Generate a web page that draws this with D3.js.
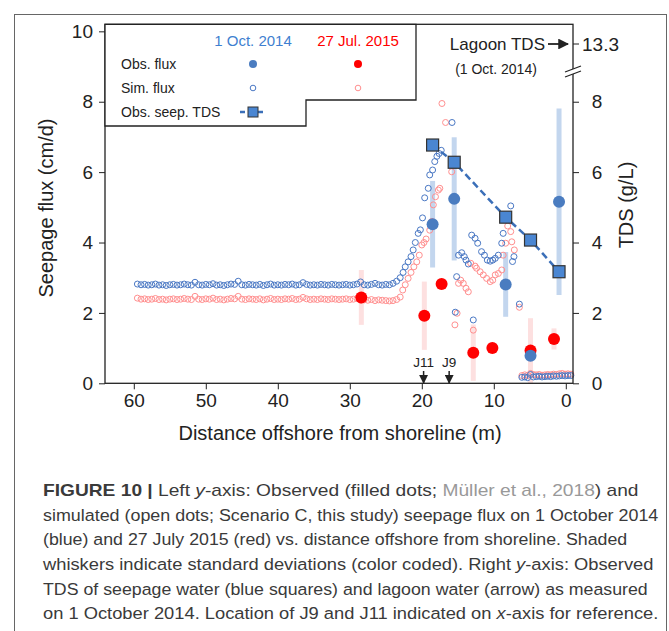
<!DOCTYPE html>
<html>
<head>
<meta charset="utf-8">
<script src="https://cdn.jsdelivr.net/npm/d3@7"></script>
<style>
  body { margin: 0; background: #fff; }
  svg { display: block; font-family: "Liberation Sans", Arial, sans-serif; }
</style>
</head>
<body>
<div id="content"></div>
<script>
'use strict';

// simulated flux, 1 Oct 2014 (blue open dots)
var simBlueX = [59.5, 59, 58.5, 58, 57.5, 57, 56.5, 56, 55.5, 55, 54.5, 54, 53.5, 53, 52.5, 52, 51.5, 51, 50.5, 50,
    49.5, 49, 48.5, 48, 47.5, 47, 46.5, 46, 45.5, 45, 44.5, 44, 43.5, 43, 42.5, 42, 41.5, 41, 40.5, 40,
    39.5, 39, 38.5, 38, 37.5, 37, 36.5, 36, 35.5, 35, 34.5, 34, 33.5, 33, 32.5, 32, 31.5, 31, 30.5, 30,
    29.5, 29, 28.5, 28, 27.5, 27, 26.5, 26, 25.5, 25, 24.5,
    24.0, 23.5, 23.0, 22.6, 22.3, 21.9, 21.5, 21.2, 20.9, 20.5, 20.2, 19.9, 19.6, 19.1, 18.9, 18.5, 18.2, 17.9, 17.6, 17.3,
    15.8, 15.35, 15.16, 14.9, 14.46, 14.1, 13.86, 13.54, 13.07, 12.85, 12.6, 12.24, 11.7, 11.3, 10.9, 10.5, 10.15, 9.8, 9.37,
    8.9, 8.7, 7.65, 7.4, 7.2, 6.45,
    6.1, 5.7, 5.3, 4.9, 4.5, 4.1, 3.7, 3.3, 2.9, 2.5, 2.1, 1.7, 1.3, 0.9, 0.5, 0.1, -0.3, -0.7]
var simBlueY = [2.82, 2.80, 2.81, 2.79, 2.80, 2.82, 2.79, 2.80, 2.78, 2.80, 2.81, 2.79, 2.80, 2.82, 2.80, 2.79, 2.87, 2.80, 2.79, 2.81,
    2.80, 2.83, 2.79, 2.80, 2.78, 2.80, 2.82, 2.81, 2.90, 2.80, 2.79, 2.81, 2.80, 2.79, 2.81, 2.78, 2.80, 2.82, 2.79, 2.80,
    2.79, 2.81, 2.80, 2.82, 2.79, 2.80, 2.86, 2.81, 2.79, 2.80, 2.79, 2.81, 2.80, 2.79, 2.81, 2.80, 2.79, 2.80, 2.81, 2.79,
    2.80, 2.82, 2.88, 2.80, 2.79, 2.81, 2.84, 2.80, 2.79, 2.81, 2.80,
    2.84, 2.90, 3.00, 3.15, 3.31, 3.45, 3.60, 3.79, 4.00, 4.26, 4.36, 4.70, 5.27, 5.54, 5.92, 6.06, 6.30, 6.45, 6.53, 6.62,
    7.41, 2.02, 3.03, 3.64, 3.71, 3.60, 3.50, 3.39, 4.21, 1.80, 4.12, 3.98, 3.74, 3.64, 3.50, 3.47, 3.50, 3.55, 3.64,
    3.98, 4.26, 5.04, 3.46, 3.60, 2.25,
    0.17, 0.18, 0.16, 0.25, 0.18, 0.19, 0.20, 0.18, 0.19, 0.20, 0.19, 0.21, 0.20, 0.21, 0.22, 0.21, 0.22, 0.22]

// simulated flux, 27 Jul 2015 (red open dots)
var simRedX = [59.5, 59, 58.5, 58, 57.5, 57, 56.5, 56, 55.5, 55, 54.5, 54, 53.5, 53, 52.5, 52, 51.5, 51, 50.5, 50,
    49.5, 49, 48.5, 48, 47.5, 47, 46.5, 46, 45.5, 45, 44.5, 44, 43.5, 43, 42.5, 42, 41.5, 41, 40.5, 40,
    39.5, 39, 38.5, 38, 37.5, 37, 36.5, 36, 35.5, 35, 34.5, 34, 33.5, 33, 32.5, 32, 31.5, 31, 30.5, 30,
    29.5, 29, 28.5, 28, 27.5, 27, 26.5, 26, 25.5, 25, 24.5,
    24.0, 23.5, 23.0, 22.65, 22.3, 21.9, 21.5, 21.1, 20.7, 20.35, 20.0, 19.7, 19.4, 18.9, 18.6, 18.4, 18.1, 17.7, 17.5,
    17.2, 16.7, 15.85, 15.4, 15.1, 14.9, 14.6, 14.24, 13.86, 13.54, 13.2, 12.85, 12.6, 12.4, 11.9, 11.46, 11.0, 10.5, 10.15,
    9.8, 9.37, 8.9, 8.7, 8.35, 8.07, 7.65, 7.5, 7.15, 6.45,
    6.1, 5.7, 5.3, 4.9, 4.5, 4.1, 3.7, 3.3, 2.9, 2.5, 2.1, 1.7, 1.3, 0.9, 0.5, 0.1, -0.3, -0.7]
var simRedY = [2.42, 2.39, 2.40, 2.38, 2.39, 2.41, 2.38, 2.39, 2.37, 2.39, 2.40, 2.38, 2.39, 2.41, 2.39, 2.38, 2.47, 2.39, 2.38, 2.40,
    2.39, 2.42, 2.38, 2.39, 2.37, 2.39, 2.41, 2.40, 2.47, 2.39, 2.38, 2.40, 2.39, 2.38, 2.40, 2.37, 2.39, 2.41, 2.38, 2.39,
    2.38, 2.40, 2.39, 2.41, 2.38, 2.39, 2.44, 2.40, 2.38, 2.39, 2.38, 2.40, 2.39, 2.38, 2.40, 2.39, 2.38, 2.39, 2.40, 2.38,
    2.39, 2.41, 2.36, 2.37, 2.36, 2.38, 2.35, 2.37, 2.36, 2.35, 2.34,
    2.35, 2.38, 2.45, 2.65, 2.80, 2.98, 3.15, 3.31, 3.45, 3.64, 3.93, 4.00, 4.10, 4.35, 4.60, 5.07, 5.30, 5.49, 5.54,
    7.95, 7.41, 6.01, 1.66, 1.99, 2.84, 2.93, 2.84, 2.70, 2.60, 3.41, 1.51, 3.33, 3.27, 3.17, 3.08, 2.98, 2.89, 2.93,
    3.08, 3.12, 3.22, 3.64, 3.98, 4.47, 4.31, 4.02, 3.79, 2.16,
    0.22, 0.24, 0.22, 0.28, 0.25, 0.24, 0.25, 0.23, 0.24, 0.25, 0.24, 0.26, 0.25, 0.27, 0.28, 0.26, 0.27, 0.26]

// observed flux (filled dots) with standard deviation
var obsBlueX = [18.5, 15.5, 8.35, 4.9, 0.94]
var obsBlueY = [4.52, 5.24, 2.81, 0.78, 5.16]
var obsBlueSd = [1.23, 1.75, 0.92, 0.55, 2.65]
var obsRedX = [28.4, 19.65, 17.25, 12.85, 10.2, 4.9, 1.64]
var obsRedY = [2.44, 1.92, 2.82, 0.87, 1.00, 0.93, 1.26]
var obsRedSd = [0.78, 0.97, 0, 0.8, 0, 0.92, 0.3]

// observed TDS of seepage water, g/L (right axis)
var tdsX = [18.5, 15.5, 8.35, 4.9, 0.94]
var tdsY = [6.77, 6.28, 4.72, 4.07, 3.17]

var xTicks = [60, 50, 40, 30, 20, 10, 0]
var yTicks = [0, 2, 4, 6, 8, 10]
var tdsTicks = [0, 2, 4, 6, 8]
var lagoonTds = 13.3
var wells = [{ name: 'J11', x: 19.75 }, { name: 'J9', x: 16.2 }]

var caption = [
    [['b', 'FIGURE 10 | '], ['', 'Left '], ['i', 'y'], ['', '-axis: Observed (filled dots; '], ['g', 'Müller et al., 2018'], ['', ') and']],
    [['', 'simulated (open dots; Scenario C, this study) seepage flux on 1 October 2014']],
    [['', '(blue) and 27 July 2015 (red) vs. distance offshore from shoreline. Shaded']],
    [['', 'whiskers indicate standard deviations (color coded). Right '], ['i', 'y'], ['', '-axis: Observed']],
    [['', 'TDS of seepage water (blue squares) and lagoon water (arrow) as measured']],
    [['', 'on 1 October 2014. Location of J9 and J11 indicated on '], ['i', 'x'], ['', '-axis for reference.']]
]
var captionWidth = [596, 616, 585, 611, 605, 616]

var BLUE = '#4a7cc0', BLUE_LIGHT = '#c3d6ee', BLUE_SIM = '#4a78c4'
var RED = '#ff0000', RED_LIGHT = '#fde0e0', RED_SIM = '#ff8f8f'
var INK = '#222'

var W = 669, H = 631
var svg = d3.select('#content').append('svg').attr('width', W).attr('height', H)
svg.append('rect').attr('width', W).attr('height', H).attr('fill', '#fff')
svg.append('rect').attr('x', 14.5).attr('y', 14.5).attr('width', 652).attr('height', 640)
    .attr('fill', 'none').attr('stroke', '#666').attr('stroke-width', 1)

var pLeft = 105, pRight = 573, pTop = 24.3, pBottom = 383.3
var x = d3.scaleLinear().domain([64, -1]).range([pLeft, pRight])
var y = d3.scaleLinear().domain([0, 10.2]).range([pBottom, pTop])

var g = svg.append('g')

// whiskers
g.selectAll('.wb').data(obsBlueX).enter().append('line')
    .attr('x1', function(d) { return x(d) }).attr('x2', function(d) { return x(d) })
    .attr('y1', function(d, i) { return y(obsBlueY[i] - obsBlueSd[i]) })
    .attr('y2', function(d, i) { return y(obsBlueY[i] + obsBlueSd[i]) })
    .attr('stroke', BLUE_LIGHT).attr('stroke-width', 5)
g.selectAll('.wr').data(obsRedX).enter().append('line')
    .attr('x1', function(d) { return x(d) }).attr('x2', function(d) { return x(d) })
    .attr('y1', function(d, i) { return y(Math.max(0, obsRedY[i] - obsRedSd[i])) })
    .attr('y2', function(d, i) { return y(obsRedY[i] + obsRedSd[i]) })
    .attr('stroke', RED_LIGHT).attr('stroke-width', 5)

// simulated
g.selectAll('.sr').data(simRedX).enter().append('circle')
    .attr('cx', function(d) { return x(d) }).attr('cy', function(d, i) { return y(simRedY[i]) })
    .attr('r', 3).attr('fill', 'none').attr('stroke', RED_SIM).attr('stroke-width', 1)
g.selectAll('.sb').data(simBlueX).enter().append('circle')
    .attr('cx', function(d) { return x(d) }).attr('cy', function(d, i) { return y(simBlueY[i]) })
    .attr('r', 3).attr('fill', 'none').attr('stroke', BLUE_SIM).attr('stroke-width', 1)

// observed
g.selectAll('.or').data(obsRedX).enter().append('circle')
    .attr('cx', function(d) { return x(d) }).attr('cy', function(d, i) { return y(obsRedY[i]) })
    .attr('r', 6).attr('fill', RED)
g.selectAll('.ob').data(obsBlueX).enter().append('circle')
    .attr('cx', function(d) { return x(d) }).attr('cy', function(d, i) { return y(obsBlueY[i]) })
    .attr('r', 6).attr('fill', BLUE)

// TDS line + squares
var tdsLine = d3.line().x(function(d) { return x(d) }).y(function(d, i) { return y(tdsY[i]) })
g.append('path').attr('d', tdsLine(tdsX)).attr('fill', 'none')
    .attr('stroke', '#3b6fb8').attr('stroke-width', 2.5).attr('stroke-dasharray', '7,4')
g.selectAll('.sq').data(tdsX).enter().append('rect')
    .attr('x', function(d) { return x(d) - 6 }).attr('y', function(d, i) { return y(tdsY[i]) - 6 })
    .attr('width', 12).attr('height', 12).attr('fill', '#4a86d2').attr('stroke', '#333').attr('stroke-width', 1.2)

// axes
var axisFont = 19
var xAxis = svg.append('g').attr('transform', 'translate(0,' + pBottom + ')')
    .call(d3.axisBottom(x).tickValues(xTicks).tickSize(6).tickPadding(4).tickSizeOuter(0))
var yAxis = svg.append('g').attr('transform', 'translate(' + pLeft + ',0)')
    .call(d3.axisLeft(y).tickValues(yTicks).tickSize(6).tickPadding(6).tickSizeOuter(0))
var rAxis = svg.append('g').attr('transform', 'translate(' + pRight + ',0)')
    .call(d3.axisRight(y).tickValues(tdsTicks).tickSize(6).tickPadding(12).tickSizeOuter(0))
;[xAxis, yAxis, rAxis].forEach(function(a) {
    a.select('.domain').remove()
    a.selectAll('line').attr('stroke', INK)
    a.selectAll('text').attr('font-size', axisFont).attr('fill', INK).attr('font-family', null)
})
rAxis.selectAll('text').attr('text-anchor', 'middle').attr('dx', 6)

// plot frame
svg.append('rect').attr('x', pLeft).attr('y', pTop).attr('width', pRight - pLeft).attr('height', pBottom - pTop)
    .attr('fill', 'none').attr('stroke', INK).attr('stroke-width', 1.3)

// lagoon TDS tick + axis break
var yLag = 44
svg.append('line').attr('x1', pRight).attr('x2', pRight + 6).attr('y1', yLag).attr('y2', yLag).attr('stroke', INK)
svg.append('text').attr('x', pRight + 9).attr('y', yLag).attr('dy', '0.35em').attr('font-size', axisFont)
    .attr('fill', INK).text(lagoonTds)
svg.append('polygon').attr('points', [[pRight - 8, 72], [pRight + 8, 66], [pRight + 8, 71], [pRight - 8, 77]].join(' '))
    .attr('fill', '#fff')
svg.append('line').attr('x1', pRight - 8).attr('y1', 72).attr('x2', pRight + 8).attr('y2', 66).attr('stroke', INK).attr('stroke-width', 1.2)
svg.append('line').attr('x1', pRight - 8).attr('y1', 77).attr('x2', pRight + 8).attr('y2', 71).attr('stroke', INK).attr('stroke-width', 1.2)

svg.append('text').attr('x', 545).attr('y', yLag).attr('dy', '0.35em').attr('text-anchor', 'end')
    .attr('font-size', 17).attr('fill', INK).text('Lagoon TDS')
svg.append('defs').append('marker').attr('id', 'ah').attr('viewBox', '0 0 10 10').attr('refX', 9).attr('refY', 5)
    .attr('markerWidth', 6).attr('markerHeight', 6).attr('orient', 'auto')
    .append('path').attr('d', 'M0,0L10,5L0,10z').attr('fill', INK)
svg.append('line').attr('x1', 548).attr('x2', 568).attr('y1', yLag).attr('y2', yLag)
    .attr('stroke', INK).attr('stroke-width', 1.8).attr('marker-end', 'url(#ah)')
svg.append('text').attr('x', 496).attr('y', 69).attr('dy', '0.35em').attr('text-anchor', 'middle')
    .attr('font-size', 14).attr('fill', INK).text('(1 Oct. 2014)')

// well markers
wells.forEach(function(w) {
    svg.append('text').attr('x', x(w.x)).attr('y', 367).attr('text-anchor', 'middle')
        .attr('font-size', 13.5).attr('fill', INK).text(w.name)
    svg.append('line').attr('x1', x(w.x)).attr('x2', x(w.x)).attr('y1', 371).attr('y2', 383)
        .attr('stroke', INK).attr('stroke-width', 1.5).attr('marker-end', 'url(#ah)')
})

// legend
var lg = svg.append('g')
lg.append('polygon').attr('points', [[pLeft, pTop], [416, pTop], [416, 100], [306, 100], [306, 126], [pLeft, 126]].join(' '))
    .attr('fill', '#fff').attr('stroke', INK).attr('stroke-width', 1.3)
var c1 = 253, c2 = 358
lg.append('text').attr('x', c1).attr('y', 41).attr('dy', '0.35em').attr('text-anchor', 'middle')
    .attr('font-size', 15).attr('fill', '#3f7fd0').text('1 Oct. 2014')
lg.append('text').attr('x', c2).attr('y', 41).attr('dy', '0.35em').attr('text-anchor', 'middle')
    .attr('font-size', 15).attr('fill', RED).text('27 Jul. 2015')
var rows = ['Obs. flux', 'Sim. flux', 'Obs. seep. TDS']
rows.forEach(function(r, i) {
    lg.append('text').attr('x', 121).attr('y', 64 + i * 24).attr('dy', '0.35em')
        .attr('font-size', 14).attr('fill', INK).text(r)
})
lg.append('circle').attr('cx', c1).attr('cy', 64).attr('r', 4).attr('fill', BLUE)
lg.append('circle').attr('cx', c2).attr('cy', 64).attr('r', 4).attr('fill', RED)
lg.append('circle').attr('cx', c1).attr('cy', 88).attr('r', 2.8).attr('fill', 'none').attr('stroke', BLUE_SIM)
lg.append('circle').attr('cx', c2).attr('cy', 88).attr('r', 2.8).attr('fill', 'none').attr('stroke', RED_SIM)
lg.append('line').attr('x1', c1 - 13).attr('x2', c1 + 13).attr('y1', 112).attr('y2', 112)
    .attr('stroke', '#3b6fb8').attr('stroke-width', 2.5).attr('stroke-dasharray', '5,4')
lg.append('rect').attr('x', c1 - 5).attr('y', 107).attr('width', 10).attr('height', 10)
    .attr('fill', '#4a86d2').attr('stroke', '#333')

// axis titles
svg.append('text').attr('transform', 'translate(53,208) rotate(-90)').attr('text-anchor', 'middle')
    .attr('font-size', 20).attr('fill', INK).text('Seepage flux (cm/d)')
svg.append('text').attr('transform', 'translate(633,205) rotate(-90)').attr('text-anchor', 'middle')
    .attr('font-size', 20).attr('fill', INK).text('TDS (g/L)')
svg.append('text').attr('x', (pLeft + pRight) / 2 + 1).attr('y', 440).attr('text-anchor', 'middle')
    .attr('font-size', 20).attr('fill', INK).text('Distance offshore from shoreline (m)')

// caption
caption.forEach(function(line, i) {
    var t = svg.append('text').attr('x', 43).attr('y', 496 + i * 24.7).attr('font-size', 17).attr('fill', '#3a3a3a')
    line.forEach(function(p) {
        var s = t.append('tspan').text(p[1])
        if (p[0] == 'b') s.attr('font-weight', 'bold')
        if (p[0] == 'i') s.attr('font-style', 'italic')
        if (p[0] == 'g') s.attr('fill', '#999')
    })
    var len = t.node().getComputedTextLength()
    var k = captionWidth[i] / len
    t.attr('transform', 'translate(43,0) scale(' + k + ',1) translate(-43,0)')
})
</script>
</body>
</html>
